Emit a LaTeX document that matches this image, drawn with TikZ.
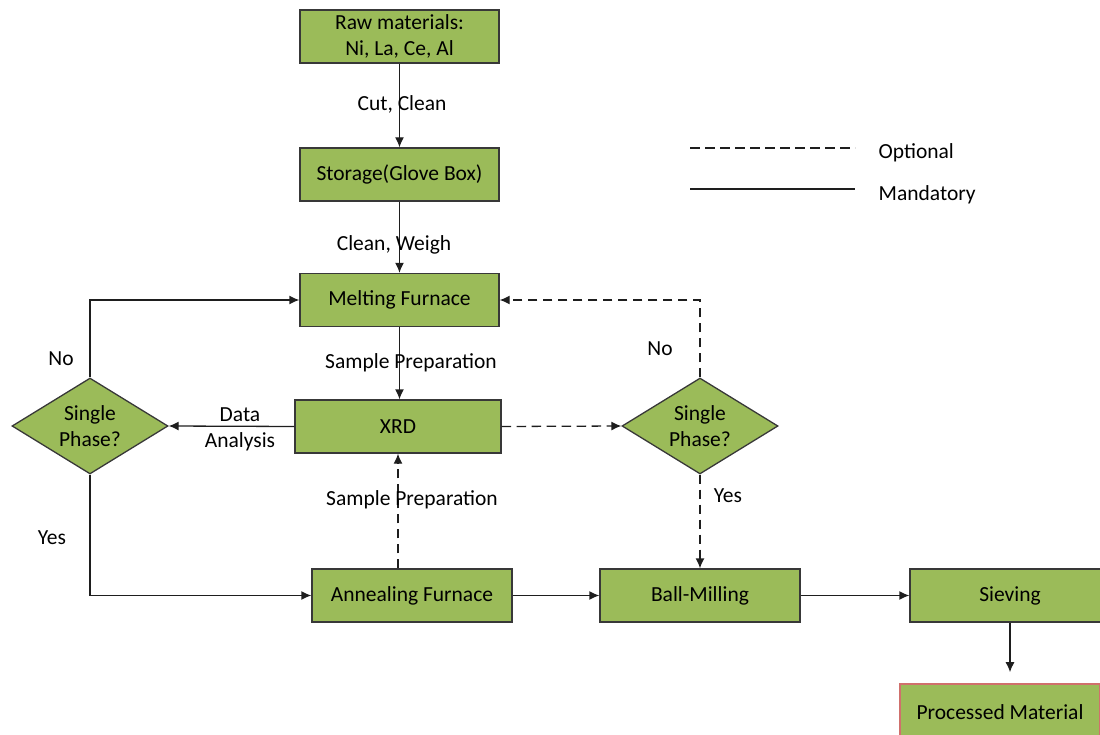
\documentclass[tikz,border=0pt]{standalone}
\usepackage{fontspec}
\setmainfont{Carlito}
\usetikzlibrary{arrows.meta,positioning,shapes.geometric}
\definecolor{boxgreen}{HTML}{9BBB59}
\definecolor{boxline}{HTML}{383838}
\definecolor{wireline}{HTML}{1E1E1E}
\definecolor{endline}{HTML}{D0706C}

\begin{document}
\begin{tikzpicture}[>={Latex[length=10pt,width=9pt]}, x=1pt, y=-1pt, line width=1.3pt,
	font=\fontsize{21.5}{26}\selectfont,
	box/.style={draw=boxline, fill=boxgreen, minimum width=199pt, minimum height=53pt, align=center, inner sep=0pt},
	decision/.style={diamond, draw=boxline, fill=boxgreen, minimum width=156pt, minimum height=96pt, aspect=1.625, inner sep=0pt, align=center},
	wire/.style={draw=wireline, ->},
	opt/.style={dash pattern=on 9.5pt off 5.5pt}]
		\useasboundingbox (0,0) rectangle (1100,735);
		\clip (0,0) rectangle (1100,735);

		% process steps
		\node[box] (raw) at (399.5,36.5) {Raw materials:\\Ni, La, Ce, Al};
		\node[box] (store) at (399.5,174.5) {Storage(Glove Box)};
		\node[box] (melt) at (399.5,300) {Melting Furnace};
		\node[box, minimum width=206pt] (xrd) at (398,426.5) {XRD};
		\node[box, minimum width=200pt] (anneal) at (412,595.5) {Annealing Furnace};
		\node[box, minimum width=200pt] (mill) at (700,595.5) {Ball-Milling};
		\node[box, minimum width=200pt] (sieve) at (1010,595.5) {Sieving};
		\node[box, draw=endline, line width=1.6pt, minimum width=200pt, minimum height=56pt] (product) at (1000,712) {Processed Material};

		% checks
		\node[decision] (leftchk) at (90,426) {Single\\Phase?};
		\node[decision] (rightchk) at (700,426) {Single\\Phase?};

		% mandatory steps
		\draw[wire] (raw) -- (store);
		\draw[wire] (store) -- (melt);
		\draw[wire] (melt.south) -- (melt.south |- xrd.north);
		\draw[wire] (xrd.west) -- (leftchk.east);
		\draw[wire] (leftchk.north) |- (melt.west);
		\draw[wire] (leftchk.south) |- (anneal.west);
		\draw[wire] (anneal) -- (mill);
		\draw[wire] (mill) -- (sieve);
		\draw[wire, shorten >=11pt] (sieve.south) -- (sieve.south |- product.north);

		% optional steps
		\draw[wire,opt] (xrd.south |- anneal.north) -- (xrd.south);
		\draw[wire,opt] (xrd.east) -- (rightchk.west);
		\draw[wire,opt] (rightchk.north) |- (melt.east);
		\draw[wire,opt] (rightchk.south) -- (mill.north);

		% labels
		\node (cutlbl) at (402,104) {Cut, Clean};
		\node (weighlbl) at (394,245) {Clean, Weigh};
		\node (preplbl) at (411,363) {Sample Preparation};
		\node (reprlbl) at (412,500) {Sample Preparation};
		\node[align=center] (datalbl) at (240,429) {Data\\Analysis};
		\node (leftno) at (61,359) {No};
		\node (leftyes) at (52,538) {Yes};
		\node (rightno) at (660,349) {No};
		\node (rightyes) at (728,496) {Yes};

		% legend
		\coordinate (optA) at (690,148);
		\coordinate (optB) at (855,148);
		\coordinate (manA) at (690,189);
		\coordinate (manB) at (855,189);
		\draw[draw=wireline,opt] (optA) -- (optB);
		\draw[draw=wireline] (manA) -- (manB);
		\node[right, inner sep=0pt] (optlbl) at (878,153) {Optional};
		\node[right, inner sep=0pt] (manlbl) at (878,195) {Mandatory};
	\end{tikzpicture}
\end{document}
